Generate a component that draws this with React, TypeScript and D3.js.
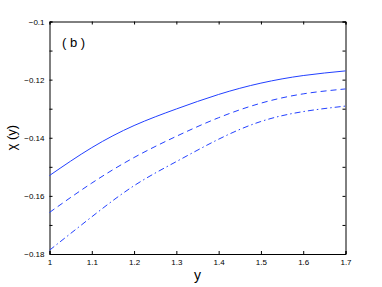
import React, { useEffect, useRef } from "react";
import * as d3 from "d3";

// values
const yValues = [1, 1.1, 1.2, 1.3, 1.4, 1.5, 1.6, 1.7];
const chiSolid = [-0.153, -0.1434, -0.1358, -0.1301, -0.1251, -0.1212, -0.1186, -0.117];
const chiDashed = [-0.1657, -0.1556, -0.1468, -0.1395, -0.1331, -0.1281, -0.1249, -0.1232];
const chiDashDot = [-0.1787, -0.1672, -0.1565, -0.1482, -0.1405, -0.1344, -0.1310, -0.1291];
const xTicks = [1, 1.1, 1.2, 1.3, 1.4, 1.5, 1.6, 1.7];
const yMinorTicks = [-0.18, -0.17, -0.16, -0.15, -0.14, -0.13, -0.12, -0.11, -0.1];
const yLabelTicks = [-0.18, -0.16, -0.14, -0.12, -0.1];

const W = 382;
const H = 287;
const margin = { left: 49.5, top: 21.5, right: 36.5, bottom: 33 };

export default function App() {
	const svgRef = useRef<SVGSVGElement>(null);

	useEffect(() => {
		const svg = d3.select(svgRef.current);
		svg.selectAll("*").remove();

		const x = d3.scaleLinear().domain([1, 1.7]).range([margin.left, W - margin.right]);
		const y = d3.scaleLinear().domain([-0.18, -0.1]).range([H - margin.bottom, margin.top]);
		const font = "'Liberation Sans', Arial, Helvetica, sans-serif";

		svg.append("rect").attr("width", W).attr("height", H).attr("fill", "white");

		const fmt = d3.format("~g");

		// bottom axis
		const gB = svg
			.append("g")
			.attr("transform", `translate(0,${y(-0.18)})`)
			.call(d3.axisBottom(x).tickValues(xTicks).tickSize(-3).tickPadding(5).tickFormat((d) => fmt(d as number)));
		// top axis (ticks only)
		const gT = svg
			.append("g")
			.attr("transform", `translate(0,${y(-0.1)})`)
			.call(d3.axisTop(x).tickValues(xTicks).tickSize(-3).tickFormat(() => ""));
		// left axis: minor ticks, labels every 0.02
		const gL = svg
			.append("g")
			.attr("transform", `translate(${x(1)},0)`)
			.call(
				d3
					.axisLeft(y)
					.tickValues(yMinorTicks)
					.tickSize(-3)
					.tickPadding(5)
					.tickFormat((d) => (yLabelTicks.some((v) => Math.abs(v - (d as number)) < 1e-9) ? fmt(d as number) : "")),
			);
		// right axis (ticks only)
		const gR = svg
			.append("g")
			.attr("transform", `translate(${x(1.7)},0)`)
			.call(d3.axisRight(y).tickValues(yMinorTicks).tickSize(-3).tickFormat(() => ""));

		[gB, gT, gL, gR].forEach((g) => {
			g.select(".domain").attr("stroke", "#000").attr("stroke-width", 1);
			g.selectAll(".tick line").attr("stroke", "#000");
			g.selectAll("text").attr("font-family", font).attr("font-size", 8).attr("fill", "#000");
		});

		const line = d3
			.line<[number, number]>()
			.x((d) => x(d[0]))
			.y((d) => y(d[1]))
			.curve(d3.curveNatural);

		const series: { values: number[]; dash: string | null }[] = [
			{ values: chiSolid, dash: null },
			{ values: chiDashed, dash: "6,4" },
			{ values: chiDashDot, dash: "6,3,1.5,3" },
		];

		series.forEach((s) => {
			svg
				.append("path")
				.attr("d", line(yValues.map((v, i) => [v, s.values[i]] as [number, number])))
				.attr("fill", "none")
				.attr("stroke", "#2240ff")
				.attr("stroke-width", 1)
				.attr("stroke-dasharray", s.dash);
		});

		// panel tag
		svg
			.append("text")
			.attr("x", 62)
			.attr("y", 47)
			.attr("font-family", font)
			.attr("font-size", 13)
			.text("( b )");

		// axis titles
		svg
			.append("text")
			.attr("x", (x(1) + x(1.7)) / 2)
			.attr("y", 280)
			.attr("text-anchor", "middle")
			.attr("font-family", font)
			.attr("font-size", 14)
			.text("y");

		svg
			.append("text")
			.attr("transform", `translate(16,${(y(-0.1) + y(-0.18)) / 2}) rotate(-90)`)
			.attr("text-anchor", "middle")
			.attr("font-family", font)
			.attr("font-size", 13)
			.text("χ (y)");
	}, []);

	return (
		<svg
			ref={svgRef}
			width={W}
			height={H}
			style={{ position: "absolute", left: 0, top: 0, display: "block" }}
		></svg>
	);
}
